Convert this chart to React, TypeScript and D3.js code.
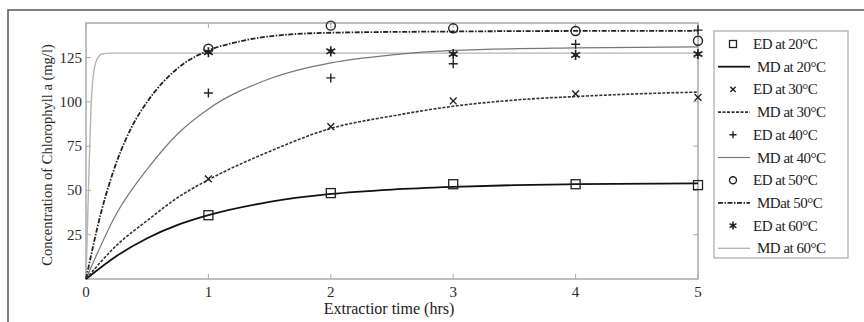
import { useEffect, useRef } from 'react'
import * as d3 from 'd3'

const hours = [1, 2, 3, 4, 5]
const ed20 = [36, 48.5, 53.5, 53.5, 53]
const ed30 = [56.5, 86, 100.5, 104.5, 102.5]
const ed40 = [105, 113.5, 121.5, 132.5, 140.5]
const ed50 = [130, 143, 141.5, 140, 134.5]
const ed60 = [128, 128.5, 127, 126.5, 127]

// model curves (MD)
const md20t = [0, 0.25, 0.5, 0.75, 1, 1.5, 2, 2.5, 3, 3.5, 4, 5]
const md20v = [0, 13, 23, 30.5, 36, 43.5, 48, 50.5, 52, 53, 53.5, 54]
const md30t = [0, 0.25, 0.5, 0.75, 1, 1.5, 2, 2.5, 3, 3.5, 4, 4.5, 5]
const md30v = [0, 19, 33, 46, 56, 72, 85, 92, 97.5, 101, 103, 104.5, 105.5]
const md40t = [0, 0.25, 0.5, 0.75, 1, 1.5, 2, 2.5, 3, 4, 5]
const md40v = [0, 37, 62, 82, 96, 113, 122, 126.5, 129, 130.5, 131]
const md50t = [0, 0.125, 0.25, 0.375, 0.5, 0.75, 1, 1.25, 1.5, 2, 3, 4, 5]
const md50v = [0, 38, 66, 86, 100, 119, 129, 134, 137, 139, 139.7, 140, 140]
const md60t = [0, 0.02, 0.04, 0.06, 0.09, 0.13, 0.2, 1, 3, 5]
const md60v = [0, 50, 95, 115, 124, 127, 127.5, 127.5, 127.5, 127.5]

const xTicks = [0, 1, 2, 3, 4, 5]
const yTicks = [25, 50, 75, 100, 125]

const legendLabels = [
  'ED at 20°C', 'MD at 20°C', 'ED at 30°C', 'MD at 30°C', 'ED at 40°C',
  'MD at 40°C', 'ED at 50°C', 'MDat 50°C', 'ED at 60°C', 'MD at 60°C'
]

export default function App() {
  const ref = useRef(null)

  useEffect(() => {
    d3.select(ref.current).selectAll('*').remove()
    const W = 864, H = 322
    const left = 86, right = 698, top = 23, bottom = 279

    const svg = d3.select(ref.current).append('svg')
      .attr('width', W).attr('height', H)
      .style('display', 'block')
      .style('font-family', '"Liberation Serif", "Times New Roman", serif')

    svg.append('rect').attr('width', W).attr('height', H).attr('fill', 'white')

    // outer figure frame
    svg.append('path').attr('d', `M8,${H} V10 H${W}`)
      .attr('fill', 'none').attr('stroke', '#555').attr('stroke-width', 1.5)

    const x = d3.scaleLinear().domain([0, 5]).range([left, right])
    const y = d3.scaleLinear().domain([0, 144.5]).range([bottom, top])

    const axisColor = '#aaa'
    const textColor = '#2a2a2a'
    svg.append('rect')
      .attr('x', left).attr('y', top)
      .attr('width', right - left).attr('height', bottom - top)
      .attr('fill', 'none').attr('stroke', axisColor).attr('stroke-width', 1.5)

    const g = svg.append('g')
    xTicks.forEach(t => {
      g.append('line').attr('x1', x(t)).attr('x2', x(t)).attr('y1', bottom).attr('y2', bottom - 5)
        .attr('stroke', axisColor)
      g.append('line').attr('x1', x(t)).attr('x2', x(t)).attr('y1', top).attr('y2', top + 5)
        .attr('stroke', axisColor)
      g.append('text').attr('x', x(t)).attr('y', bottom + 18)
        .attr('text-anchor', 'middle').attr('font-size', 15).attr('fill', textColor)
        .text(t)
    })
    yTicks.forEach(v => {
      g.append('line').attr('x1', left).attr('x2', left + 5).attr('y1', y(v)).attr('y2', y(v))
        .attr('stroke', axisColor)
      g.append('line').attr('x1', right).attr('x2', right - 5).attr('y1', y(v)).attr('y2', y(v))
        .attr('stroke', axisColor)
      g.append('text').attr('x', left - 4).attr('y', y(v) + 5)
        .attr('text-anchor', 'end').attr('font-size', 15).attr('fill', textColor)
        .text(v)
    })

    svg.append('text')
      .attr('transform', `translate(52,${(top + bottom) / 2 + 4}) rotate(-90)`)
      .attr('text-anchor', 'middle').attr('font-size', 14.5).attr('fill', textColor)
      .text('Concentration of Chlorophyll a (mg/l)')

    svg.append('text')
      .attr('x', 389).attr('y', 314)
      .attr('text-anchor', 'middle').attr('font-size', 16).attr('fill', '#222')
      .text('Extractior time (hrs)')

    const line = d3.line<[number, number]>()
      .x(d => x(d[0])).y(d => y(d[1]))
      .curve(d3.curveMonotoneX)

    const styles = [
      { stroke: '#111', width: 1.8, dash: null },
      { stroke: '#333', width: 1.6, dash: '3,1.5' },
      { stroke: '#777', width: 1.2, dash: null },
      { stroke: '#222', width: 1.8, dash: '5,1.5,1.5,1.5' },
      { stroke: '#b5b5b5', width: 1.4, dash: null }
    ]
    const models = [
      [md20t, md20v], [md30t, md30v], [md40t, md40v], [md50t, md50v], [md60t, md60v]
    ]

    // MD60 first so it sits under the rest
    const order = [4, 2, 0, 1, 3]
    order.forEach(i => {
      const [ts, vs] = models[i]
      const pts = ts.map((t, j) => [t, vs[j]] as [number, number])
      svg.append('path').attr('d', line(pts))
        .attr('fill', 'none').attr('stroke', styles[i].stroke)
        .attr('stroke-width', styles[i].width)
        .attr('stroke-dasharray', styles[i].dash)
    })

    const drawMarker = (sel, kind: string, cx: number, cy: number, s: number) => {
      const c = '#222'
      if (kind === 'square') {
        sel.append('rect').attr('x', cx - s / 2).attr('y', cy - s / 2).attr('width', s).attr('height', s)
          .attr('fill', 'none').attr('stroke', c).attr('stroke-width', 1.3)
      } else if (kind === 'x') {
        const h = s * 0.38
        sel.append('path').attr('d', `M${cx - h},${cy - h}L${cx + h},${cy + h}M${cx - h},${cy + h}L${cx + h},${cy - h}`)
          .attr('stroke', c).attr('stroke-width', 1.4)
      } else if (kind === 'plus') {
        const h = s * 0.5
        sel.append('path').attr('d', `M${cx - h},${cy}H${cx + h}M${cx},${cy - h}V${cy + h}`)
          .attr('stroke', c).attr('stroke-width', 1.4)
      } else if (kind === 'circle') {
        sel.append('circle').attr('cx', cx).attr('cy', cy).attr('r', s / 2)
          .attr('fill', 'none').attr('stroke', c).attr('stroke-width', 1.4)
      } else {
        const h = s * 0.45
        sel.append('path').attr('d', d3.symbol(d3.symbolAsterisk, 1).size(s * s * 0.9)())
          .attr('transform', `translate(${cx},${cy})`).attr('stroke', c).attr('stroke-width', 1.6)
        sel.append('circle').attr('cx', cx).attr('cy', cy).attr('r', h * 0.55).attr('fill', c)
      }
    }

    const kinds = ['square', 'x', 'plus', 'circle', 'star']
    const eds = [ed20, ed30, ed40, ed50, ed60]
    eds.forEach((vals, i) => {
      const mg = svg.append('g')
      vals.forEach((v, j) => drawMarker(mg, kinds[i], x(hours[j]), y(v), 9))
    })

    // legend
    const lx = 714, ly = 31, lw = 134, lh = 227
    const lg = svg.append('g')
    lg.append('rect').attr('x', lx).attr('y', ly).attr('width', lw).attr('height', lh)
      .attr('fill', 'white').attr('stroke', '#aaa').attr('stroke-width', 1.2)
    legendLabels.forEach((lab, k) => {
      const cy = ly + 13 + k * 22.7
      const i = Math.floor(k / 2)
      if (k % 2 === 0) {
        drawMarker(lg, kinds[i], 733, cy, 7)
      } else {
        lg.append('line').attr('x1', 718).attr('x2', 750).attr('y1', cy).attr('y2', cy)
          .attr('stroke', styles[i].stroke).attr('stroke-width', styles[i].width)
          .attr('stroke-dasharray', styles[i].dash)
      }
      lg.append('text').attr('x', k % 2 === 0 ? 753 : 757).attr('y', cy + 5)
        .attr('font-size', 15).attr('fill', '#222').attr('letter-spacing', -0.5)
        .text(lab)
    })
  }, [])

  return <div ref={ref} style={{ position: 'absolute', left: 0, top: 0 }}></div>
}
